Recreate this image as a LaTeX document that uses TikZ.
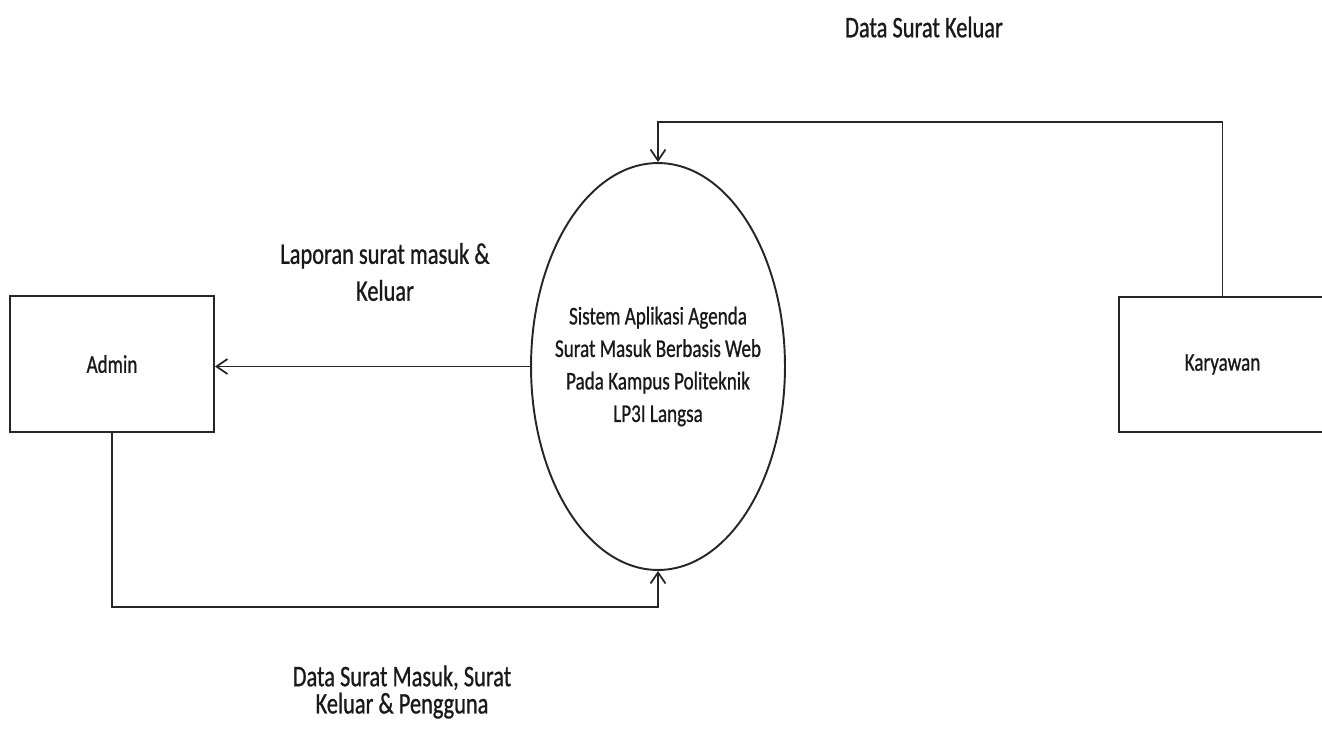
\documentclass[tikz,border=0pt]{standalone}
\usepackage{fontspec}
\setmainfont{Carlito}[FakeStretch=0.75,FakeBold=0.8]
\usetikzlibrary{arrows.meta,shapes.geometric}
\newcommand{\fsz}[2]{\fontsize{#1}{#2}\selectfont}

\begin{document}
\begin{tikzpicture}[
    x=0.02cm, y=-0.02cm,
    line width=1.1pt, draw=black!85, text=black!90,
    entity/.style={draw, rectangle, inner sep=0pt, font=\fsz{14.5}{18}},
    proc/.style={draw, ellipse, inner sep=0pt, minimum width=5.08cm, minimum height=8.14cm},
    flow/.style={-{Straight Barb[length=0.22cm,width=0.3cm,line width=1pt]}},
    lbl/.style={align=center, font=\fsz{17}{#1}},
    lbl/.default=21
    ]
    \useasboundingbox (0,0) rectangle (1322,735);
    \node[entity, minimum width=4.08cm, minimum height=2.72cm] (admin) at (112,364) {Admin};
    \node[entity, minimum width=4.14cm, minimum height=2.7cm] (kary) at (1222.5,364.5) {Karyawan};
    \node[proc] (sistem) at (658,366.5) {};
    \node[align=center, font=\fsz{14.5}{18.5}] (sistxt) at (sistem.center) {Sistem Aplikasi Agenda\\Surat Masuk Berbasis Web\\Pada Kampus Politeknik\\LP3I Langsa};

    \draw[flow] (sistem.west) -- (sistem.west -| admin.east);
    \draw[flow] (admin.south) -- ++(0,174) -| (sistem.south);
    \draw[flow] (kary.north) -- ++(0,-174) -| (sistem.north);

    \node[lbl] (lkel) at (924,27) {Data Surat Keluar};
    \node[lbl=21] (llap) at (385,272) {Laporan surat masuk \&\\Keluar};
    \node[lbl=15.5] (lmsk) at (402,692) {Data Surat Masuk, Surat\\Keluar \& Pengguna};
  \end{tikzpicture}
\end{document}
